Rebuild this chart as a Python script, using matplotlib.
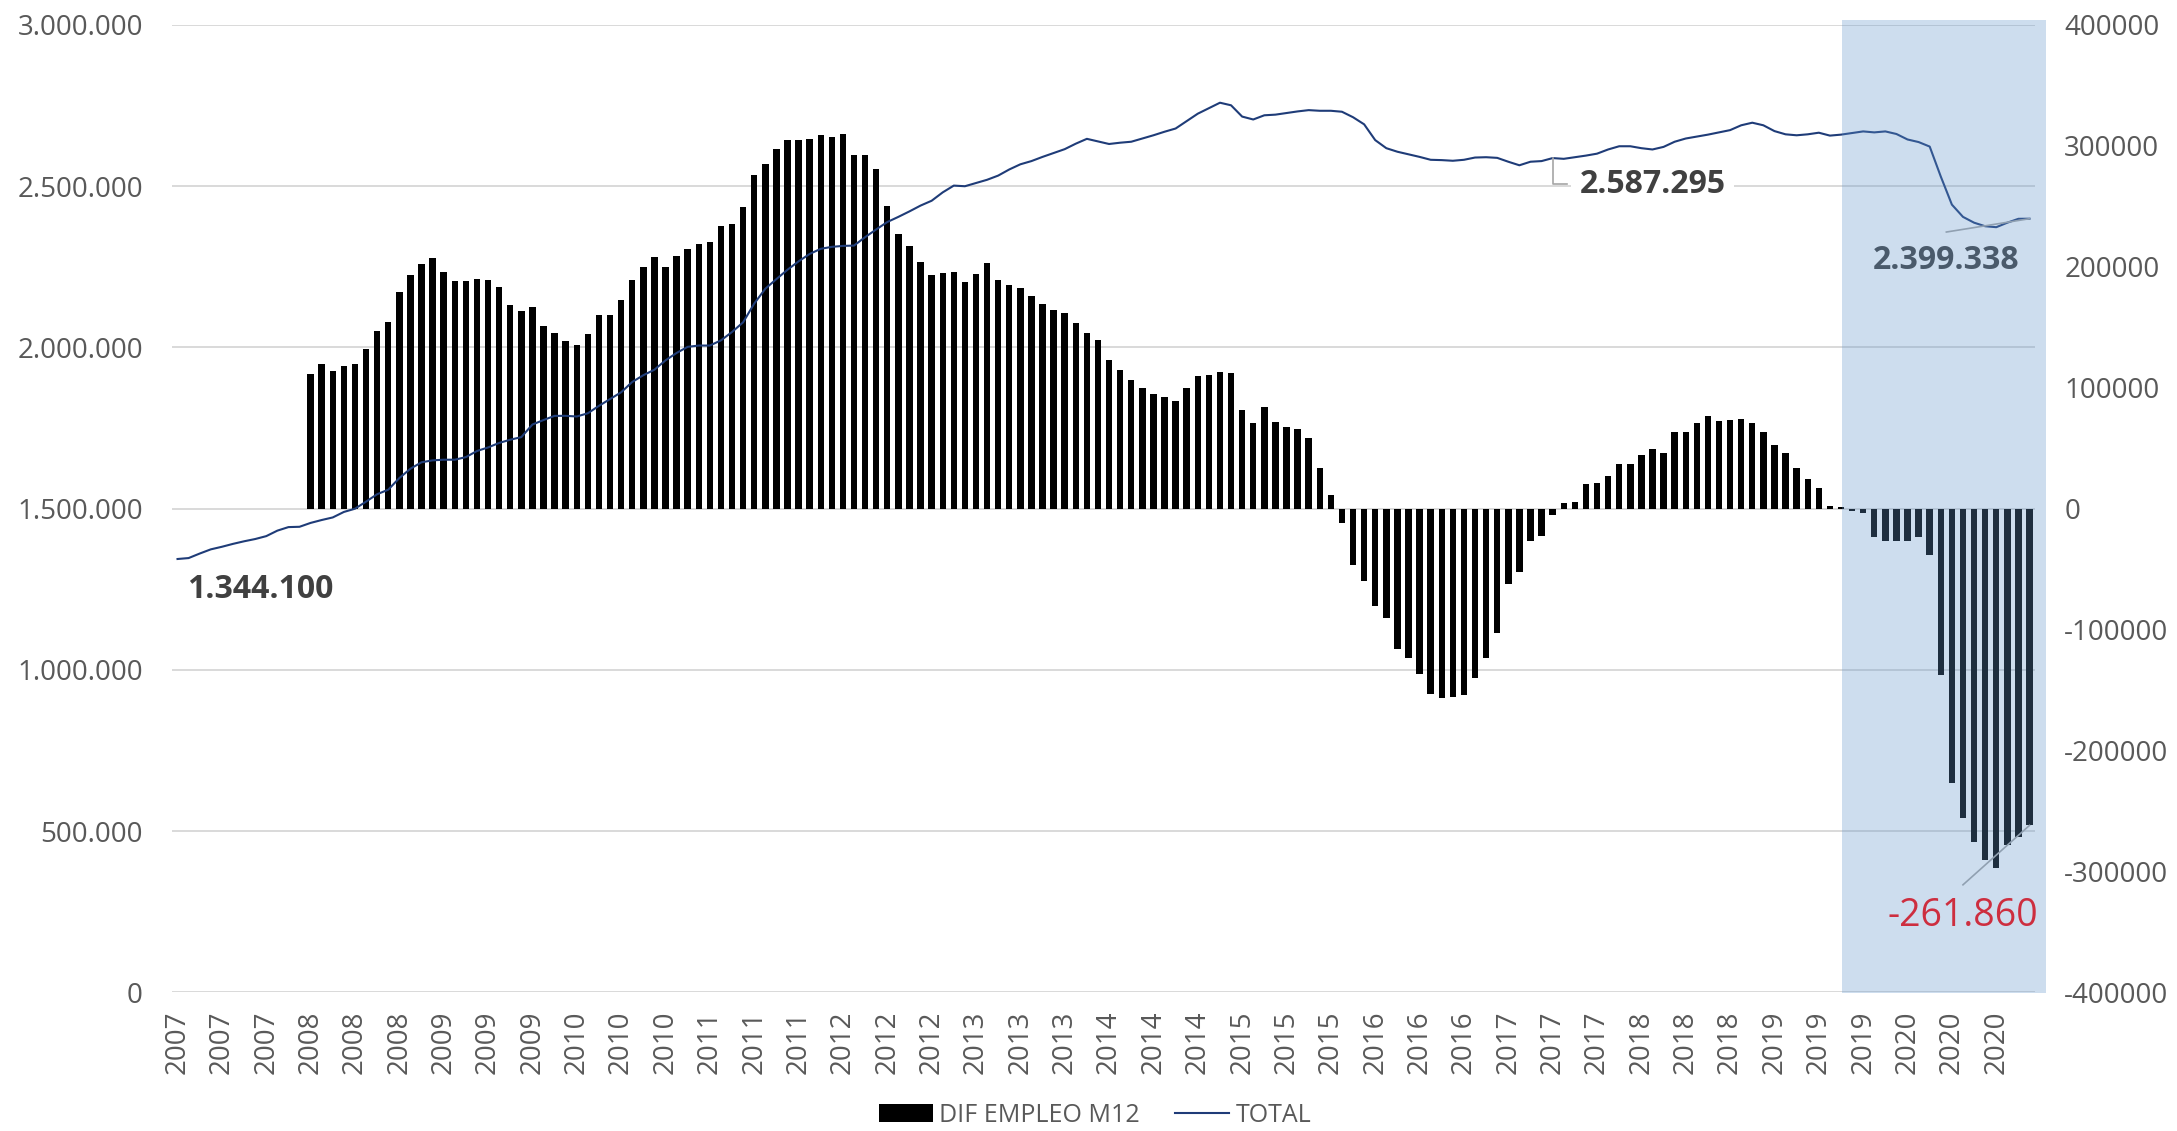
#这个文件是把就业数据 (TOTAL + 12个月差值) 画成柱状图+折线图
import numpy as np
import matplotlib
matplotlib.use("Agg")
import matplotlib.pyplot as plt
from matplotlib.patches import Rectangle, Patch
from matplotlib.lines import Line2D

plt.rcParams['font.family'] = ['Open Sans', 'DejaVu Sans']

# 月度类别: 2007-01 ... 2020-12, 标签只显示年份
years = list(range(2007, 2021))
month_labels = [str(y) for y in years for m in range(12)]

# TOTAL (千), 左轴
total_k = [
    1344.100, 1347, 1361, 1374, 1382, 1391, 1399, 1406, 1415, 1432, 1443, 1444,
    1456, 1465, 1473, 1490, 1500, 1522, 1545, 1559, 1595, 1624, 1644, 1650,
    1652, 1652, 1660, 1679, 1690, 1704, 1714, 1722, 1761, 1775, 1788, 1788,
    1786, 1796, 1819, 1840, 1861, 1893, 1914, 1931, 1960, 1983, 2002, 2006,
    2006, 2022, 2048, 2078, 2136, 2182, 2212, 2241, 2267, 2290, 2306, 2312,
    2315, 2316, 2342, 2366, 2389, 2405, 2422, 2440, 2455, 2481, 2502, 2500,
    2510, 2520, 2533, 2552, 2568, 2578, 2591, 2603, 2615, 2632, 2647, 2639,
    2631, 2635, 2638, 2648, 2658, 2669, 2679, 2702, 2725, 2742, 2759, 2751,
    2716, 2707, 2720, 2722, 2727, 2732, 2736, 2734, 2734, 2731, 2714, 2692,
    2643, 2618, 2607, 2599, 2591, 2582, 2581, 2579, 2582, 2589, 2590, 2588,
    2576, 2565, 2576, 2578, 2587.295, 2585, 2590, 2595, 2601, 2614, 2624, 2624,
    2618, 2614, 2622, 2638, 2648, 2654, 2660, 2667, 2674, 2689, 2697, 2689,
    2671, 2661, 2658, 2661, 2666, 2657, 2660, 2665, 2670, 2667, 2670, 2662,
    2645, 2637, 2623, 2530, 2443, 2405, 2387, 2376, 2373, 2387, 2399, 2399.338,
]

# DIF EMPLEO M12 (千), 右轴, 从 2008-01 开始
dif_k = [
    111.3, 119.3, 113.8, 118.0, 119.6, 132.0, 146.6, 154.0, 179.0, 193.0, 202.0, 207.0,
    196.0, 188.0, 188.0, 190.0, 189.0, 183.0, 168.6, 163.9, 166.4, 151.0, 145.0, 138.6,
    135.3, 144.6, 160.3, 160.3, 172.4, 189.0, 200.0, 208.0, 200.0, 209.0, 215.0, 219.0,
    220.5, 233.4, 235.3, 249.3, 276.0, 285.0, 297.5, 305.0, 305.0, 305.7, 308.7, 307.6,
    310.0, 292.8, 292.5, 280.7, 250.0, 227.3, 217.0, 204.0, 193.5, 194.9, 195.7, 187.5,
    194.3, 202.9, 188.9, 185.0, 182.3, 175.7, 169.3, 164.1, 162.2, 153.7, 145.2, 139.4,
    122.9, 114.9, 106.1, 99.8, 95.1, 92.1, 88.8, 100.1, 109.7, 110.2, 113.3, 112.2,
    81.9, 71.2, 84.4, 72.0, 67.9, 66.0, 58.3, 33.5, 11.5, -11.5, -46.5, -60.0,
    -80.6, -90.2, -116.0, -123.5, -136.7, -153.4, -156.5, -155.4, -153.7, -140.2, -123.5, -103.0,
    -62.4, -52.0, -26.4, -22.3, -5.0, 4.4, 5.8, 20.4, 21.2, 27.0, 36.6, 36.6,
    44.3, 49.5, 45.9, 63.5, 63.5, 70.7, 76.7, 72.3, 73.4, 74.2, 71.0, 63.5,
    53.0, 45.9, 33.5, 24.2, 17.0, 1.9, 1.1, -1.9, -3.9, -23.6, -26.4, -27.0,
    -27.0, -23.1, -38.2, -137.5, -226.5, -255.4, -275.2, -290.3, -297.4, -278.2, -271.7, -261.860,
]
dif_start = 12

left_ticks = [0, 500000, 1000000, 1500000, 2000000, 2500000, 3000000]
right_ticks = [-400000, -300000, -200000, -100000, 0, 100000, 200000, 300000, 400000]

total = np.array(total_k) * 1000
dif = np.array(dif_k) * 1000
x_all = np.arange(len(total))
x_dif = np.arange(dif_start, dif_start + len(dif))


def fmt_es(v):
    return f"{v:,.0f}".replace(",", ".")


navy = '#1F3C78'
grey_txt = '#595959'

fig = plt.figure(figsize=(21.77, 11.31), dpi=100)
ax = fig.add_axes([0.0790, 0.1225, 0.8558, 0.8554])
ax2 = ax.twinx()

# 网格线按左轴刻度画在柱子下面
for L in left_ticks:
    ax.axhline(-400000 + L * 800000 / 3e6, color='#D9D9D9', lw=1.4, zorder=1)

# 柱子: 右轴
ax.bar(x_dif, dif, width=0.58, color='black', zorder=2)
ax.set_xlim(-0.5, len(total) - 0.5)
ax.set_ylim(-400000, 400000)
ax.set_yticks(right_ticks)
ax.set_yticklabels([str(v) for v in right_ticks])
ax.yaxis.tick_right()
ax.tick_params(axis='y', length=0, pad=21, labelsize=20, colors=grey_txt)
ax.set_xticks(x_all[::4])
ax.set_xticklabels(month_labels[::4], rotation=90)
ax.tick_params(axis='x', length=0, pad=13, labelsize=20, colors=grey_txt)

# 折线: 左轴
ax2.plot(x_all, total, color=navy, lw=1.5, zorder=3)
ax2.set_ylim(0, 3000000)
ax2.set_yticks(left_ticks)
ax2.set_yticklabels([fmt_es(v) for v in left_ticks])
ax2.yaxis.tick_left()
ax2.tick_params(axis='y', length=0, pad=21, labelsize=20, colors=grey_txt)

for a in (ax, ax2):
    for s in a.spines.values():
        s.set_visible(False)

# 数据标签
ax2.text(7.5, 1.251e6, fmt_es(total[0]), ha='center', va='center',
         fontsize=23, fontweight='bold', color='#404040', zorder=6)

i_mid = 124
ax2.plot([i_mid, i_mid, 125.3], [total[i_mid], 2.507e6, 2.507e6],
         color='#A6A6A6', lw=1.2, zorder=4)
ax2.text(133.0, 2.504e6, fmt_es(total[i_mid]), ha='center', va='center',
         fontsize=23, fontweight='bold', color='#404040', zorder=6,
         bbox=dict(boxstyle='square,pad=0.28', fc='white', ec='none'))

ax2.plot([159.5, x_all[-1]], [2.358e6, total[-1]], color='#A6A6A6', lw=1.2,
         zorder=4, clip_on=False)
ax2.text(159.5, 2.271e6, fmt_es(total[-1]), ha='center', va='center',
         fontsize=23, fontweight='bold', color='#404040', zorder=6)

ax.plot([161.0, x_dif[-1]], [-311000, dif[-1]], color='#A6A6A6', lw=1.2,
        zorder=4, clip_on=False)
ax.text(161.0, -336800, fmt_es(dif[-1]), ha='center', va='center',
        fontsize=27, color='#FF0000', zorder=6, clip_on=False)

# 2019-2020 半透明蓝色阴影 (盖在图上)
fig.add_artist(Rectangle((1842 / 2177, 1 - 993 / 1131), (2046 - 1842) / 2177,
                         (993 - 20) / 1131, transform=fig.transFigure,
                         facecolor='#6295CB', alpha=0.315, edgecolor='none',
                         zorder=5))

handles = [Patch(facecolor='black', edgecolor='none'),
           Line2D([], [], color=navy, lw=1.5)]
fig.legend(handles, ['DIF EMPLEO M12', 'TOTAL'], loc='center',
           bbox_to_anchor=(0.503, 0.014), ncol=2, frameon=False, fontsize=18,
           handlelength=2.16, handleheight=0.7, handletextpad=0.25,
           columnspacing=1.4, labelcolor=grey_txt)

fig.savefig('out.png', dpi=100)
plt.close(fig)
